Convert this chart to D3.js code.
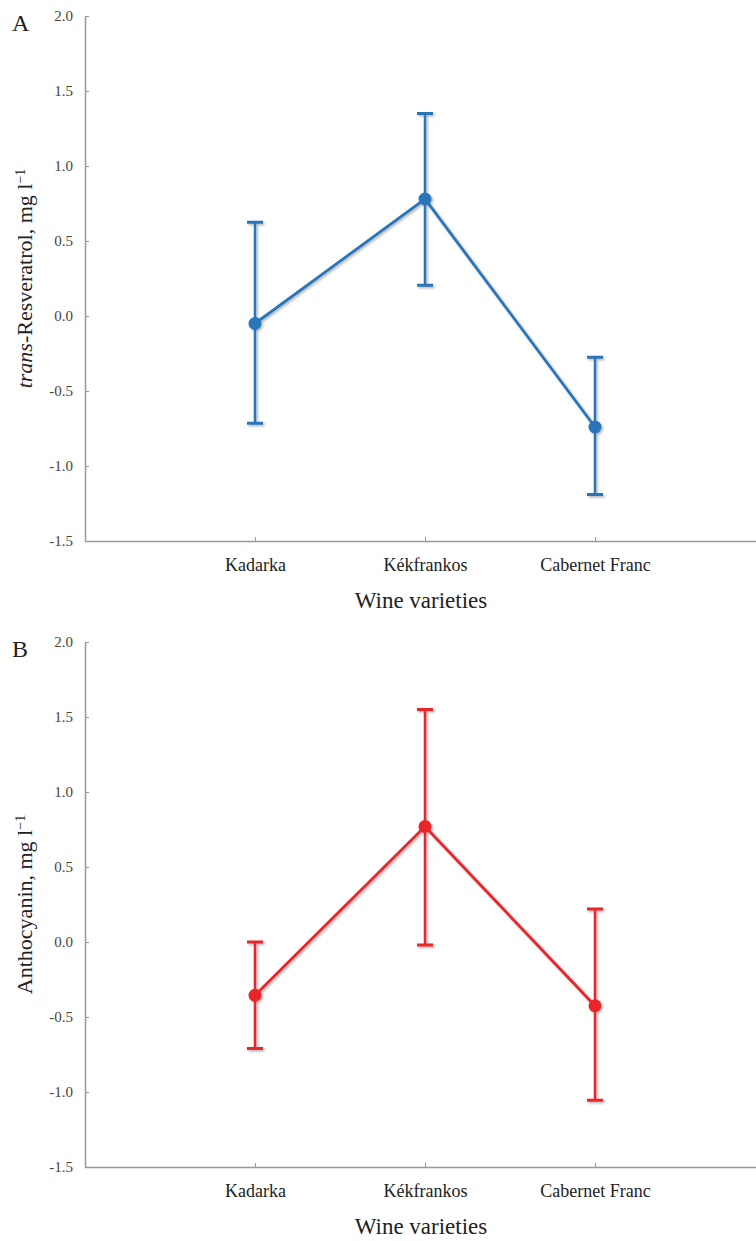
<!DOCTYPE html>
<html>
<head>
<meta charset="utf-8">
<script src="https://cdn.jsdelivr.net/npm/d3@7"></script>
<style>
  body { margin: 0; background: #fff; }
  svg text { font-family: "Liberation Serif", "Times New Roman", serif; }
</style>
</head>
<body>
<svg id="chart"></svg>
<script>
const categories = ["Kadarka", "Kékfrankos", "Cabernet Franc"];

const resveratrolMean  = [-0.05, 0.78, -0.74];
const resveratrolUpper = [0.625, 1.35, -0.275];
const resveratrolLower = [-0.715, 0.205, -1.19];

const anthocyaninMean  = [-0.355, 0.77, -0.425];
const anthocyaninUpper = [0.0, 1.55, 0.22];
const anthocyaninLower = [-0.71, -0.02, -1.055];

const yTicks = [-1.5, -1.0, -0.5, 0.0, 0.5, 1.0, 1.5, 2.0];

const W = 756, H = 1241;
const left = 85;
const serif = "Liberation Serif, Times New Roman, serif";

const svg = d3.select("#chart")
    .attr("width", W)
    .attr("height", H)
    .attr("font-family", serif);

// soft shadow like the spreadsheet original
const defs = svg.append("defs");
defs.append("filter")
    .attr("id", "shadow")
    .attr("x", "-20%").attr("y", "-20%")
    .attr("width", "140%").attr("height", "140%")
    .append("feDropShadow")
    .attr("dx", 1.5).attr("dy", 1.5)
    .attr("stdDeviation", 1)
    .attr("flood-color", "#000")
    .attr("flood-opacity", 0.3);

const x = d3.scalePoint()
    .domain(categories)
    .range([left, 765])
    .padding(1);

function panel(opts) {
    const { top, bottom, mean, upper, lower, color, letter, title } = opts;
    const g = svg.append("g");

    const y = d3.scaleLinear()
        .domain([-1.5, 2.0])
        .range([bottom, top]);

    // y axis
    const yAxis = g.append("g")
        .attr("transform", `translate(${left},0)`)
        .call(d3.axisLeft(y)
            .tickValues(yTicks)
            .tickSize(-4)
            .tickSizeOuter(0)
            .tickPadding(12)
            .tickFormat(d => d.toFixed(1)));
    yAxis.attr("font-family", serif).attr("font-size", 15);
    yAxis.select(".domain").attr("stroke", "#999").attr("stroke-width", 1.5);
    yAxis.selectAll(".tick line").attr("stroke", "#999").attr("stroke-width", 1);
    yAxis.selectAll(".tick text")
        .attr("fill", "#444")
        .style("font-size", "15px");

    // x axis
    const xAxis = g.append("g")
        .attr("transform", `translate(0,${bottom})`)
        .call(d3.axisBottom(x)
            .tickSize(-4)
            .tickSizeOuter(0));
    xAxis.attr("font-family", serif).attr("font-size", 18);
    xAxis.select(".domain").attr("stroke", "#999").attr("stroke-width", 1.5);
    xAxis.selectAll(".tick line").attr("stroke", "#999").attr("stroke-width", 1);
    xAxis.selectAll(".tick text")
        .attr("y", 30)
        .attr("dy", 0)
        .attr("fill", "#222")
        .style("font-size", "18px");

    // x title
    g.append("text")
        .attr("x", 421)
        .attr("y", bottom + 67)
        .attr("text-anchor", "middle")
        .attr("fill", "#222")
        .style("font-size", "23px")
        .text("Wine varieties");

    // y title
    const yt = g.append("text")
        .attr("transform", `translate(32,${(top + bottom) / 2}) rotate(-90)`)
        .attr("text-anchor", "middle")
        .attr("fill", "#222")
        .style("font-size", "22px");
    title(yt);

    // panel letter
    g.append("text")
        .attr("x", 12)
        .attr("y", top + 15)
        .attr("fill", "#222")
        .style("font-size", "24px")
        .text(letter);

    const data = categories.map((c, i) => ({ c, m: mean[i], hi: upper[i], lo: lower[i] }));

    const marks = g.append("g").attr("filter", "url(#shadow)");

    // error bars
    const eb = marks.selectAll(".err")
        .data(data)
        .enter().append("g")
        .attr("class", "err");
    eb.append("line")
        .attr("x1", d => x(d.c)).attr("x2", d => x(d.c))
        .attr("y1", d => y(d.hi)).attr("y2", d => y(d.lo))
        .attr("stroke", color).attr("stroke-width", 2.5);
    eb.append("line")
        .attr("x1", d => x(d.c) - 8).attr("x2", d => x(d.c) + 8)
        .attr("y1", d => y(d.hi)).attr("y2", d => y(d.hi))
        .attr("stroke", color).attr("stroke-width", 3);
    eb.append("line")
        .attr("x1", d => x(d.c) - 8).attr("x2", d => x(d.c) + 8)
        .attr("y1", d => y(d.lo)).attr("y2", d => y(d.lo))
        .attr("stroke", color).attr("stroke-width", 3);

    // line
    marks.append("path")
        .datum(data)
        .attr("fill", "none")
        .attr("stroke", color)
        .attr("stroke-width", 2.8)
        .attr("d", d3.line().x(d => x(d.c)).y(d => y(d.m)));

    // points
    marks.selectAll(".pt")
        .data(data)
        .enter().append("circle")
        .attr("class", "pt")
        .attr("cx", d => x(d.c))
        .attr("cy", d => y(d.m))
        .attr("r", 6.5)
        .attr("fill", color);
}

panel({
    top: 16, bottom: 541,
    mean: resveratrolMean, upper: resveratrolUpper, lower: resveratrolLower,
    color: "#2b74b9", letter: "A",
    title: t => {
        t.append("tspan").style("font-style", "italic").text("trans");
        t.append("tspan").text("-Resveratrol, mg l");
        t.append("tspan").attr("baseline-shift", "super").style("font-size", "14px").text("\u22121");
    }
});

panel({
    top: 642, bottom: 1167,
    mean: anthocyaninMean, upper: anthocyaninUpper, lower: anthocyaninLower,
    color: "#e8272c", letter: "B",
    title: t => {
        t.append("tspan").text("Anthocyanin, mg l");
        t.append("tspan").attr("baseline-shift", "super").style("font-size", "14px").text("\u22121");
    }
});
</script>
</body>
</html>
